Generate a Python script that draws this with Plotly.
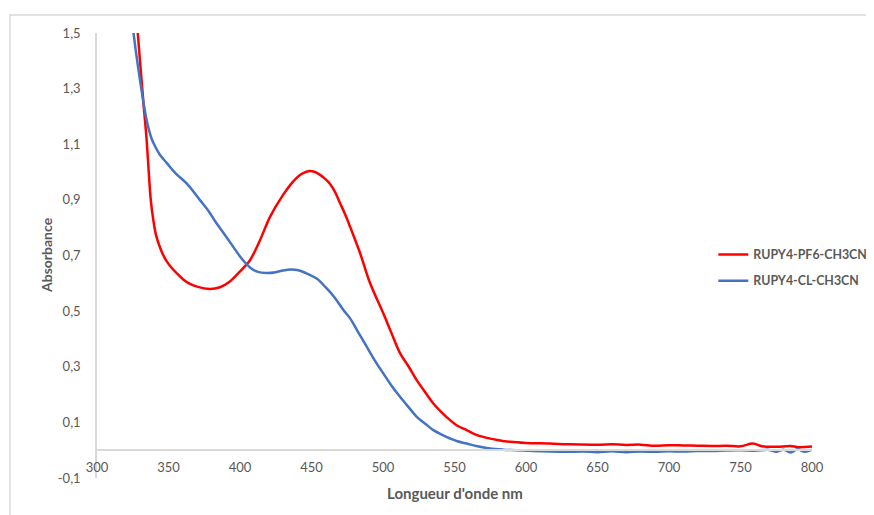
import plotly.graph_objects as go

# ---- data ----
pf6_nm = [327.5, 328.5, 332.4, 334.5, 336.2, 337.6, 339.4, 341.2, 343.5, 346, 349, 352, 356,
          360.3, 365, 370, 379, 386, 392, 398, 403.5, 407, 414, 421, 430, 437, 443, 448.5, 452,
          456, 459, 463, 466.5, 470, 473.5, 477, 484, 491, 500.2, 506, 512, 518, 523.6, 530, 535.2,
          541, 546.9, 552, 558.5, 564, 570, 580, 588.8, 600, 616.8, 630, 651.7, 660, 670, 680, 690,
          700, 710, 720, 730, 740, 750, 758.7, 765, 775, 785, 790, 800]
pf6_abs = [1.56, 1.50, 1.253, 1.13, 1.000, 0.900, 0.827, 0.775, 0.737, 0.705, 0.677, 0.657, 0.635,
           0.614, 0.598, 0.588, 0.580, 0.586, 0.603, 0.632, 0.662, 0.683, 0.755, 0.839, 0.917,
           0.965, 0.993, 1.004, 1.001, 0.990, 0.978, 0.957, 0.928, 0.888, 0.848, 0.803, 0.708,
           0.600, 0.492, 0.420, 0.348, 0.300, 0.252, 0.205, 0.168, 0.136, 0.108, 0.088, 0.072,
           0.058, 0.048, 0.037, 0.030, 0.026, 0.024, 0.021, 0.020, 0.021, 0.019, 0.020, 0.016,
           0.018, 0.017, 0.016, 0.015, 0.016, 0.014, 0.024, 0.014, 0.012, 0.015, 0.011, 0.013]

cl_nm = [324.5, 325.4, 332.4, 334.2, 336, 338.2, 340.6, 344, 348.7, 355, 362.7, 372, 378, 383.7,
         390, 395.3, 401, 407, 412, 418.7, 425, 430, 435.5, 440, 446, 453.6, 460, 466, 472.3, 477,
         482, 488.6, 494, 500.2, 506, 511.9, 518, 523.6, 530, 535.2, 541, 546.9, 552, 558.5, 566,
         574.8, 584, 593.5, 605, 617, 628, 640, 650, 660, 670, 680, 690, 700, 710, 720, 730, 740,
         750, 760, 770, 775, 780, 785, 790, 795, 800]
cl_abs = [1.55, 1.505, 1.253, 1.200, 1.158, 1.120, 1.093, 1.062, 1.033, 0.995, 0.959, 0.899, 0.860,
          0.815, 0.770, 0.731, 0.690, 0.657, 0.642, 0.637, 0.640, 0.646, 0.650, 0.648, 0.637,
          0.617, 0.585, 0.550, 0.504, 0.474, 0.430, 0.372, 0.325, 0.276, 0.232, 0.192, 0.154,
          0.120, 0.093, 0.072, 0.056, 0.042, 0.032, 0.024, 0.014, 0.006, 0.002, 0.000, -0.003,
          -0.005, -0.006, -0.005, -0.007, -0.004, -0.007, -0.005, -0.006, -0.004, -0.005, -0.003,
          -0.003, -0.001, 0.000, -0.002, 0.001, -0.006, 0.002, -0.008, 0.003, -0.006, 0.002]

x_ticks = [300, 350, 400, 450, 500, 550, 600, 650, 700, 750, 800]
y_ticks = [-0.1, 0.1, 0.3, 0.5, 0.7, 0.9, 1.1, 1.3, 1.5]
y_tick_text = ["-0,1", "0,1", "0,3", "0,5", "0,7", "0,9", "1,1", "1,3", "1,5"]

series_names = ["RUPY4-PF6-CH3CN", "RUPY4-CL-CH3CN"]
series_colors = ["#FF0000", "#4472C4"]

FONT = "Lato, 'Open Sans', sans-serif"
GREY = "#595959"
AXIS_LINE = "#D9D9D9"

fig = go.Figure()
for name, xs, ys, col, grp in [
    (series_names[0], pf6_nm, pf6_abs, series_colors[0], "a"),
    (series_names[1], cl_nm, cl_abs, series_colors[1], "b"),
]:
    fig.add_trace(go.Scatter(x=xs, y=ys, mode="lines", name=name, legendgroup=grp,
                             line=dict(color=col, width=2.5, shape="spline", smoothing=1.0)))

# the page body adds an 8px offset, so margins are compensated;
# autoexpand off so the legend does not push the plot area
fig.update_layout(
    width=874, height=515,
    margin=dict(l=89, r=70, t=25, b=45, autoexpand=False),
    paper_bgcolor="white", plot_bgcolor="white",
    font=dict(family=FONT, color=GREY, size=13),
    showlegend=True,
    legend=dict(x=0.862, y=0.472, xanchor="left", yanchor="middle",
                font=dict(family=FONT, size=12.4, color=GREY, weight="bold"),
                tracegroupgap=7, bgcolor="rgba(0,0,0,0)"),
    xaxis=dict(range=[300, 800], tickvals=x_ticks, anchor="free", position=0.1 / 1.6,
               automargin=False,
               showgrid=False, zeroline=False, showline=True, linecolor=AXIS_LINE, linewidth=1.5,
               ticks="outside", ticklen=5, tickcolor="rgba(0,0,0,0)",
               tickfont=dict(family=FONT, size=13, color=GREY)),
    yaxis=dict(range=[-0.1, 1.5], tickvals=y_ticks, ticktext=y_tick_text, domain=[0, 1],
               automargin=False,
               showgrid=False, zeroline=False, showline=True, linecolor=AXIS_LINE, linewidth=1.5,
               ticks="outside", ticklen=12, tickcolor="rgba(0,0,0,0)",
               tickfont=dict(family=FONT, size=13, color=GREY)),
    annotations=[
        dict(text="<b>Absorbance</b>", textangle=-90, xref="paper", yref="paper",
             x=(47 - 97) / 715, y=(478 - 255) / 445, xanchor="center", yanchor="middle",
             showarrow=False, font=dict(family=FONT, size=14, color=GREY)),
        dict(text="<b>Longueur d'onde nm</b>", xref="paper", yref="paper",
             x=(455 - 97) / 715, y=(478 - 493) / 445, xanchor="center", yanchor="middle",
             showarrow=False, font=dict(family=FONT, size=15, color=GREY)),
    ],
    shapes=[
        dict(type="rect", xref="paper", yref="paper",
             x0=(10 - 97) / 715, x1=1.3, y0=-0.3, y1=(478 - 15) / 445,
             line=dict(color=AXIS_LINE, width=1.5), fillcolor="rgba(0,0,0,0)", layer="below"),
    ],
)

fig.write_html("out.html")
